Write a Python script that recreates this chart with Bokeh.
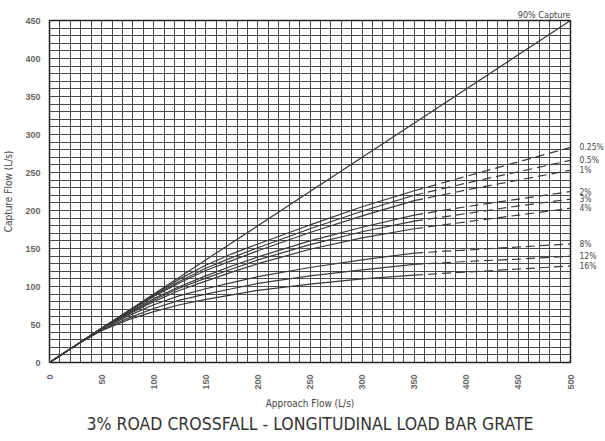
import math
from bokeh.plotting import figure
from bokeh.models import Range1d, FixedTicker, LinearAxis, Title
from bokeh.embed import file_html
from bokeh.resources import INLINE

# ---- data ----
approach_flow = [0, 25, 50, 75, 100, 125, 150, 175, 200, 250, 300, 350, 400, 450, 500]
dash_start_index = 11  # curves are dashed from 350 L/s onwards

grade_labels = ["0.25%", "0.5%", "1%", "2%", "3%", "4%", "8%", "12%", "16%"]
cap_025 = [0, 22.5, 45, 67, 89, 110, 128, 143, 156, 181, 205, 226, 245, 264, 283]
cap_05 = [0, 22.5, 45, 67, 88, 107, 124, 138, 151, 176, 199, 220, 236, 251, 266]
cap_1 = [0, 22.5, 45, 66, 87, 105, 121, 134, 147, 171, 193, 213, 227, 240, 253]
cap_2 = [0, 22.5, 45, 65, 84, 100, 114, 127, 139, 160, 178, 194, 205, 215, 225]
cap_3 = [0, 22.5, 45, 64, 82, 98, 111, 123, 135, 155, 172, 186, 196, 206, 215]
cap_4 = [0, 22.5, 45, 63, 80, 95, 107, 119, 130, 149, 164, 176, 185, 194, 203]
cap_8 = [0, 22.5, 44, 61, 76, 88, 97, 105, 113, 125, 135, 144, 148, 152, 156]
cap_12 = [0, 22.5, 43, 58, 71, 82, 90, 97, 104, 114, 122, 129, 133, 136, 140]
cap_16 = [0, 22.5, 42, 56, 67, 76, 83, 89, 95, 103, 110, 115, 119, 123, 127]
capture_series = [cap_025, cap_05, cap_1, cap_2, cap_3, cap_4, cap_8, cap_12, cap_16]

ninety_x = [0, 500]
ninety_y = [0, 450]
ninety_label = "90% Capture"

x_ticks = list(range(0, 501, 50))
y_ticks = list(range(0, 451, 50))
x_minor = list(range(0, 501, 10))
y_minor = list(range(0, 451, 10))

title_text = "3% ROAD CROSSFALL - LONGITUDINAL LOAD BAR GRATE"
LINE = "#3a3a3a"
GRID = "#4a4a4a"
FONT = "DejaVu Sans Condensed"

p = figure(frame_width=521, frame_height=342, output_backend="svg", toolbar_location=None,
           x_range=Range1d(0, 500), y_range=Range1d(0, 450),
           title=title_text, title_location="below",
           min_border_left=40, min_border_right=27, min_border_top=20, min_border_bottom=60)

p.background_fill_color = "white"
p.border_fill_color = "white"
p.outline_line_color = "#222"
p.outline_line_width = 1.5

p.xaxis.ticker = FixedTicker(ticks=x_ticks, minor_ticks=x_minor)
p.yaxis.ticker = FixedTicker(ticks=y_ticks, minor_ticks=y_minor)
for g in (p.xgrid, p.ygrid):
    g.grid_line_color = GRID
    g.grid_line_width = 1
    g.minor_grid_line_color = GRID
    g.minor_grid_line_width = 1

for ax in (p.xaxis, p.yaxis):
    ax.axis_line_color = None
    ax.major_tick_line_color = None
    ax.minor_tick_line_color = None
    ax.major_label_text_font = "Liberation Sans"
    ax.major_label_text_font_style = "bold"
    ax.major_label_text_font_size = "9px"
    ax.major_label_text_color = "#666"
    ax.axis_label_text_font = FONT
    ax.axis_label_text_font_style = "normal"
    ax.axis_label_text_font_size = "10px"
    ax.axis_label_text_color = "#444"

p.xaxis.axis_label = "Approach Flow (L/s)"
p.yaxis.axis_label = "Capture Flow (L/s)"
p.xaxis.major_label_orientation = math.pi / 2
p.xaxis.major_label_standoff = 6
p.xaxis.axis_label_standoff = 5
p.yaxis.major_label_standoff = 3
p.yaxis.axis_label_standoff = 8

p.title.align = "center"
p.title.text_font = FONT
p.title.text_font_style = "normal"
p.title.text_font_size = "17.5px"
p.title.text_color = "#333"
p.title.standoff = 0

# "90% Capture" caption above the top-right corner of the frame
p.add_layout(Title(text=ninety_label, align="right", text_font=FONT, text_font_size="9px",
                   text_font_style="normal", text_color="#444", standoff=1, offset=0), "above")

# right-hand axis carrying the road-grade labels at each curve's end value
end_values = [ys[-1] for ys in capture_series]
grade_axis = LinearAxis(ticker=FixedTicker(ticks=end_values),
                        major_label_overrides={v: lab for v, lab in zip(end_values, grade_labels)})
grade_axis.axis_line_color = None
grade_axis.major_tick_line_color = None
grade_axis.minor_tick_line_color = None
grade_axis.major_label_standoff = 3
grade_axis.major_label_text_font = FONT
grade_axis.major_label_text_font_size = "8.5px"
grade_axis.major_label_text_color = "#444"
p.add_layout(grade_axis, "right")

# 90% capture line
p.line(ninety_x, ninety_y, line_color=LINE, line_width=1.2)

for ys in capture_series:
    p.line(approach_flow[:dash_start_index + 1], ys[:dash_start_index + 1],
           line_color=LINE, line_width=1.2)
    p.line(approach_flow[dash_start_index:], ys[dash_start_index:],
           line_color=LINE, line_width=1.2, line_dash="9 5")

open("out.html", "w").write(file_html(p, INLINE))
